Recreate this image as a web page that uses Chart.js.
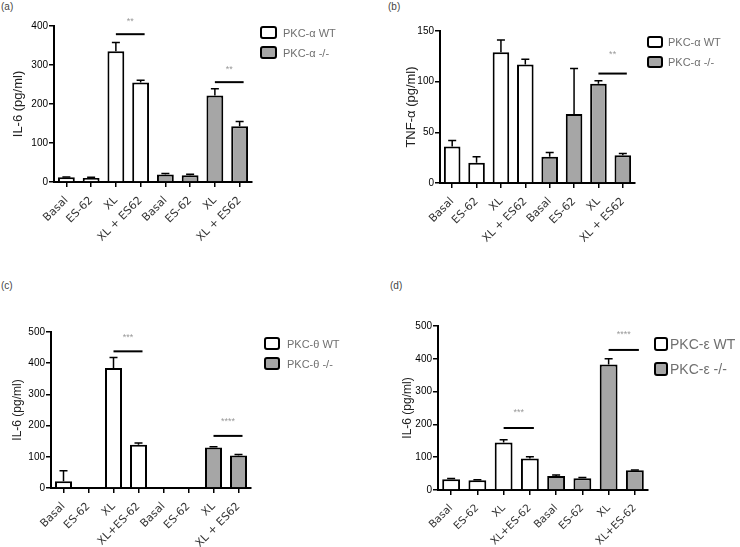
<!DOCTYPE html>
<html>
<head>
<meta charset="utf-8">
<script src="https://cdn.jsdelivr.net/npm/chart.js@4.4.1/dist/chart.umd.min.js"></script>
<style>
  body { margin: 0; background: #fff; width: 740px; height: 547px; position: relative; overflow: hidden;
         font-family: "Liberation Sans", Arial, sans-serif; }
  .panel { position: absolute; }
  .panel canvas { display: block; }
  .tag { position: absolute; font-size: 10px; color: #444; }
</style>
</head>
<body>
<div class="tag" style="left:1px;top:1px">(a)</div>
<div class="tag" style="left:388px;top:1px">(b)</div>
<div class="tag" style="left:1px;top:280px">(c)</div>
<div class="tag" style="left:390px;top:280px">(d)</div>

<div class="panel" style="left:0;top:0"><canvas id="chartA" width="370" height="270"></canvas></div>
<div class="panel" style="left:370px;top:0"><canvas id="chartB" width="370" height="270"></canvas></div>
<div class="panel" style="left:0;top:270px"><canvas id="chartC" width="370" height="277"></canvas></div>
<div class="panel" style="left:370px;top:270px"><canvas id="chartD" width="370" height="277"></canvas></div>

<script>
// ---- data ----
const labelsAB = ["Basal", "ES-62", "XL", "XL + ES62", "Basal", "ES-62", "XL", "XL + ES62"];
const labelsC = ["Basal", "ES-62", "XL", "XL+ES-62", "Basal", "ES-62", "XL", "XL + ES62"];
const labelsD = ["Basal", "ES-62", "XL", "XL+ES-62", "Basal", "ES-62", "XL", "XL+ES-62"];

// (a) IL-6, PKC-alpha
const aWT = [12, 10, 335, 255];
const aWTerr = [1, 2, 23, 6];
const aKO = [19, 17, 222, 143];
const aKOerr = [3, 3, 17, 12];
const aSig = [{ from: 2, to: 3, y: 379, text: "**" }, { from: 6, to: 7, y: 256, text: "**" }];

// (b) TNF-alpha, PKC-alpha
const bWT = [36, 20, 129, 117];
const bWTerr = [6, 6, 12, 5];
const bKO = [26, 68, 98, 27.5];
const bKOerr = [4, 45, 3, 1.5];
const bSig = [{ from: 6, to: 7, y: 108, text: "**" }];

// (c) IL-6, PKC-theta
const cWT = [22, null, 385, 139];
const cWTerr = [33, null, 33, 5];
const cKO = [null, null, 130, 104];
const cKOerr = [null, null, 2, 3];
const cSig = [{ from: 2, to: 3, y: 438, text: "***" }, { from: 6, to: 7, y: 167, text: "****" }];

// (d) IL-6, PKC-epsilon
const dWT = [33, 30, 145, 96];
const dWTerr = [2, 1, 8, 5];
const dKO = [43, 36, 383, 60];
const dKOerr = [3, 2, 17, 1];
const dSig = [{ from: 2, to: 3, y: 189, text: "***" }, { from: 6, to: 7, y: 427, text: "****" }];

const FONT = '"Liberation Sans", Arial, sans-serif';
const XFONT = '"DejaVu Sans", "Liberation Sans", sans-serif';
const pad4 = [null, null, null, null];

// error bars (upper only, like the original)
const errorBars = {
  id: "errorBars",
  afterDatasetsDraw(chart) {
    const ctx = chart.ctx;
    const y = chart.scales.y;
    ctx.save();
    ctx.strokeStyle = "#000";
    ctx.lineWidth = 1.5;
    chart.data.datasets.forEach((ds, i) => {
      const meta = chart.getDatasetMeta(i);
      meta.data.forEach((bar, j) => {
        const v = ds.data[j], e = ds.errors[j];
        if (v == null || e == null) return;
        const top = y.getPixelForValue(v + e);
        ctx.beginPath();
        ctx.moveTo(bar.x, bar.y);
        ctx.lineTo(bar.x, top);
        ctx.moveTo(bar.x - 4, top);
        ctx.lineTo(bar.x + 4, top);
        ctx.stroke();
      });
    });
    ctx.restore();
  }
};

// significance lines with stars
const sigMarks = {
  id: "sigMarks",
  afterDraw(chart, args, opts) {
    const ctx = chart.ctx;
    const x = chart.scales.x, y = chart.scales.y;
    ctx.save();
    (opts.items || []).forEach(s => {
      const x1 = x.getPixelForValue(s.from);
      const x2 = x.getPixelForValue(s.to) + 4;
      const yy = y.getPixelForValue(s.y);
      ctx.strokeStyle = "#000";
      ctx.lineWidth = 2;
      ctx.beginPath();
      ctx.moveTo(x1, yy);
      ctx.lineTo(x2, yy);
      ctx.stroke();
      ctx.fillStyle = "#999";
      ctx.font = "9px " + FONT;
      ctx.textAlign = "center";
      ctx.textBaseline = "middle";
      ctx.fillText(s.text, (x1 + x2) / 2, yy - opts.lift);
    });
    ctx.restore();
  }
};

// boxed legend to the right of the plot
const boxLegend = {
  id: "boxLegend",
  afterDraw(chart, args, opts) {
    const ctx = chart.ctx;
    ctx.save();
    chart.data.datasets.forEach((ds, i) => {
      const top = opts.y + i * opts.gap;
      ctx.fillStyle = ds.backgroundColor;
      ctx.strokeStyle = "#000";
      ctx.lineWidth = 2;
      ctx.beginPath();
      ctx.roundRect(opts.x, top, opts.w, opts.h, 2);
      ctx.fill();
      ctx.stroke();
      ctx.fillStyle = "#707070";
      ctx.font = opts.size + "px " + FONT;
      ctx.textAlign = "left";
      ctx.textBaseline = "middle";
      ctx.fillText(ds.label, opts.x + opts.w + opts.textGap, top + opts.h / 2 + 1);
    });
    ctx.restore();
  }
};

function makeChart(id, p) {
  const canvas = document.getElementById(id);
  const W = canvas.width, H = canvas.height;
  return new Chart(canvas, {
    type: "bar",
    data: {
      labels: p.labels,
      datasets: [
        { label: p.names[0], data: [...p.wt, ...pad4], errors: [...p.wtErr, ...pad4],
          backgroundColor: "#ffffff" },
        { label: p.names[1], data: [...pad4, ...p.ko], errors: [...pad4, ...p.koErr],
          backgroundColor: "#a6a6a6" }
      ]
    },
    options: {
      responsive: false,
      animation: false,
      datasets: {
        bar: { grouped: false, barPercentage: 0.68, categoryPercentage: 1,
               borderColor: "#000", borderWidth: 2, borderSkipped: "bottom" }
      },
      layout: { padding: { left: 0, top: p.area.top, right: W - p.area.right, bottom: 0 } },
      plugins: {
        legend: { display: false },
        tooltip: { enabled: false },
        sigMarks: { items: p.sig, lift: p.lift },
        boxLegend: p.legend
      },
      scales: {
        x: {
          offset: true,
          grid: { display: true, offset: false, drawOnChartArea: false, drawTicks: true,
                  tickLength: 5, color: "#000", lineWidth: 1.5 },
          border: { display: true, color: "#000", width: 2 },
          ticks: { autoSkip: false, maxRotation: 45, minRotation: 45, padding: 7,
                   color: "#333", font: { family: XFONT, size: p.xSize } },
          afterFit: s => { s.height = H - p.area.bottom; }
        },
        y: {
          min: 0, max: p.yMax,
          grid: { display: true, drawOnChartArea: false, drawTicks: true,
                  tickLength: 5, color: "#000", lineWidth: 1.5 },
          border: { display: true, color: "#000", width: 2 },
          ticks: { stepSize: p.yStep, padding: 1, color: "#000", font: { family: FONT, size: p.ySize } },
          title: { display: true, text: p.title, color: "#222",
                   font: { family: FONT, size: p.titleSize },
                   padding: { top: p.titleX - p.titleSize * 0.6, bottom: 0 } },
          afterFit: s => { s.width = p.area.left; }
        }
      }
    },
    plugins: [errorBars, sigMarks, boxLegend]
  });
}

makeChart("chartA", {
  labels: labelsAB, wt: aWT, wtErr: aWTerr, ko: aKO, koErr: aKOerr, sig: aSig, lift: 13,
  names: ["PKC-\u03b1 WT", "PKC-\u03b1 -/-"],
  yMax: 400, yStep: 100, title: "IL-6 (pg/ml)", titleX: 18, titleSize: 13, ySize: 10, xSize: 11,
  area: { left: 54, top: 26, right: 252, bottom: 182 },
  legend: { x: 261, y: 27, w: 15, h: 11, gap: 20, textGap: 7, size: 11 }
});

makeChart("chartB", {
  labels: labelsAB, wt: bWT, wtErr: bWTerr, ko: bKO, koErr: bKOerr, sig: bSig, lift: 19,
  names: ["PKC-\u03b1 WT", "PKC-\u03b1 -/-"],
  yMax: 150, yStep: 50, title: "TNF-\u03b1 (pg/ml)", titleX: 41, titleSize: 13, ySize: 10, xSize: 11,
  area: { left: 70, top: 31, right: 265, bottom: 183 },
  legend: { x: 278, y: 37, w: 14, h: 10, gap: 20, textGap: 6, size: 11 }
});

makeChart("chartC", {
  labels: labelsC, wt: cWT, wtErr: cWTerr, ko: cKO, koErr: cKOerr, sig: cSig, lift: 14,
  names: ["PKC-\u03b8 WT", "PKC-\u03b8 -/-"],
  yMax: 500, yStep: 100, title: "IL-6 (pg/ml)", titleX: 18, titleSize: 12, ySize: 10, xSize: 11,
  area: { left: 51, top: 62, right: 251, bottom: 218 },
  legend: { x: 265, y: 68, w: 14, h: 11, gap: 20, textGap: 8, size: 11 }
});

makeChart("chartD", {
  labels: labelsD, wt: dWT, wtErr: dWTerr, ko: dKO, koErr: dKOerr, sig: dSig, lift: 15,
  names: ["PKC-\u03b5 WT", "PKC-\u03b5 -/-"],
  yMax: 500, yStep: 100, title: "IL-6 (pg/ml)", titleX: 38, titleSize: 12, ySize: 10, xSize: 10.5,
  area: { left: 68, top: 56, right: 278, bottom: 220 },
  legend: { x: 285, y: 68, w: 12, h: 12, gap: 25, textGap: 3, size: 14 }
});
</script>
</body>
</html>
